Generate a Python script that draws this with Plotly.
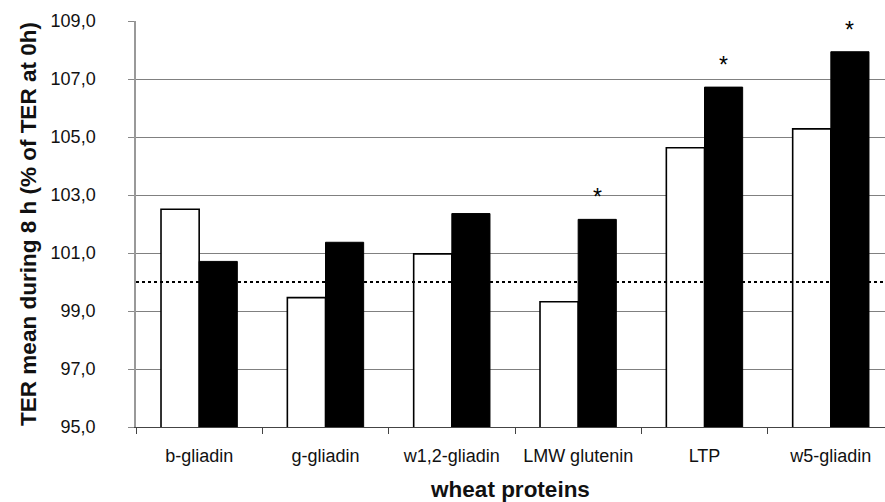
import plotly.graph_objects as go

# wheat protein fractions and TER means (% of TER at 0h), two treatments
proteins = ["b-gliadin", "g-gliadin", "w1,2-gliadin", "LMW glutenin", "LTP", "w5-gliadin"]
ter_white = [102.51, 99.46, 100.97, 99.32, 104.63, 105.28]
ter_black = [100.71, 101.37, 102.36, 102.16, 106.72, 107.94]
significant = [False, False, False, True, True, True]
baseline = 100.0
y_ticks = [95, 97, 99, 101, 103, 105, 107, 109]

font_family = "Liberation Sans, Arial, sans-serif"
bar_gap = 0.396

fig = go.Figure()
fig.add_trace(go.Bar(
    x=proteins, y=ter_white,
    marker=dict(color="white", line=dict(color="black", width=1.6)),
    showlegend=False,
))
fig.add_trace(go.Bar(
    x=proteins, y=ter_black,
    marker=dict(color="black", line=dict(color="black", width=1)),
    showlegend=False,
))

# 100 % reference line drawn over the bars
fig.add_shape(type="line", xref="paper", x0=0, x1=1, yref="y", y0=baseline, y1=baseline,
              line=dict(color="black", width=2, dash="dot"), layer="above")

# significance markers above the black bars
half = (1 - bar_gap) / 4
for i, (v, sig) in enumerate(zip(ter_black, significant)):
    if sig:
        fig.add_annotation(x=i + half, y=v, text="*", showarrow=False,
                           yshift=22, yanchor="middle",
                           font=dict(family=font_family, size=23, color="black"))

fig.update_layout(
    width=885, height=502,
    margin=dict(l=136, r=0, t=21, b=75),
    paper_bgcolor="white", plot_bgcolor="white",
    barmode="group", bargap=bar_gap, bargroupgap=0,
    separators=",.",
    font=dict(family=font_family, color="#111"),
    xaxis=dict(
        range=[-0.5, 5.5 - 9 / 126.4],
        tickson="boundaries", ticks="outside", ticklen=6, tickcolor="#444",
        showline=True, linecolor="#444", linewidth=1,
        showgrid=False,
        tickfont=dict(size=18, color="#111"),
        ticklabelstandoff=12,
        title=dict(text="<b>wheat proteins</b>", font=dict(size=22.5, color="#111"), standoff=19),
    ),
    yaxis=dict(
        range=[95, 109], tickvals=y_ticks, tickformat=".1f",
        ticks="outside", ticklen=6, tickcolor="#888",
        showline=True, linecolor="#999", linewidth=1.5,
        showgrid=True, gridcolor="#808080", gridwidth=1,
        zeroline=False,
        tickfont=dict(size=18, color="#111"),
        ticklabelstandoff=29,
        title=dict(text="<b>TER mean during 8 h (% of TER at 0h)</b>",
                   font=dict(size=22.5, color="#111"), standoff=8),
    ),
)

fig.write_html("out.html")
